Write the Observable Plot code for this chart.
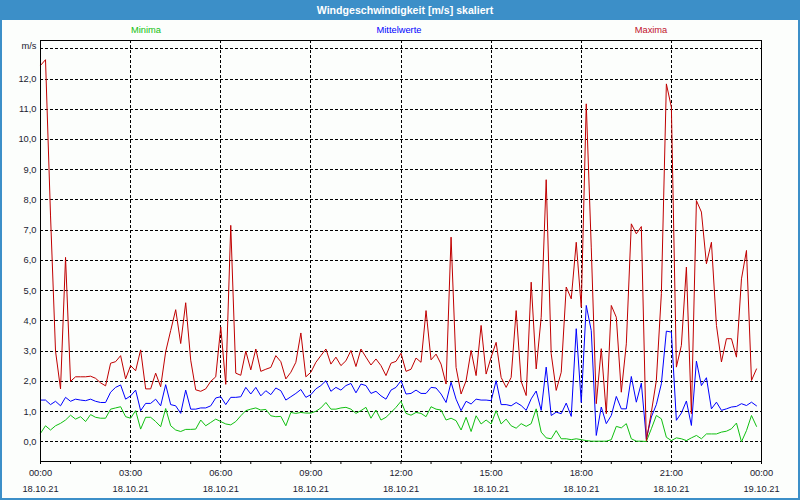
<!DOCTYPE html>
<html><head><meta charset="utf-8">
<script src="https://cdn.jsdelivr.net/npm/d3@7"></script>
<script src="https://cdn.jsdelivr.net/npm/@observablehq/plot@0.6"></script>
<style>
html,body{margin:0;padding:0;background:#fff;}
#win{position:relative;width:800px;height:500px;background:#fcfefc;overflow:hidden;font-family:"Liberation Sans",Arial,sans-serif;}
#title{position:absolute;left:0;top:0;width:800px;height:20px;background:#3c8fc8;}
#title span{position:absolute;left:405px;top:10px;transform:translate(-50%,-50%);color:#fff;font-weight:bold;font-size:10.6px;white-space:nowrap;}
.leg{position:absolute;top:30px;transform:translate(-50%,-50%);font-size:9.3px;white-space:nowrap;}
#chart{position:absolute;left:0;top:20px;}
#border{position:absolute;left:0;top:0;width:800px;height:500px;box-sizing:border-box;border:2px solid #3c8fc8;border-top:none;pointer-events:none;}
</style></head>
<body>
<div id="win">
  <div id="title"><span>Windgeschwindigkeit [m/s] skaliert</span></div>
  <div id="chart"></div>
  <div class="leg" style="left:146px;color:#10c010">Minima</div>
  <div class="leg" style="left:399px;color:#0000ff">Mittelwerte</div>
  <div class="leg" style="left:651px;color:#c0102a">Maxima</div>
  <div id="border"></div>
</div>
<script>
// 10-minute values, 18.10.21 00:00 .. 23:50
const maxima = [12.45,12.64,7.5,3.0,1.75,6.1,2.0,2.15,2.15,2.15,2.17,2.1,1.95,1.85,2.6,2.65,2.85,2.08,2.52,2.35,3.04,1.75,1.75,2.27,1.82,2.98,3.68,4.37,3.25,4.6,2.7,1.72,1.67,1.75,2.0,2.15,3.8,1.9,7.16,2.27,2.2,3.0,2.38,3.07,2.33,2.4,2.46,2.85,2.65,2.08,2.3,2.63,3.6,2.15,2.3,2.63,2.85,3.07,2.57,2.8,2.52,2.68,3.02,2.49,3.07,2.8,2.54,2.74,2.52,2.19,2.6,2.66,2.93,2.33,2.4,2.77,2.63,4.34,2.71,2.9,2.57,1.91,6.77,2.46,1.58,2.02,3.02,2.19,3.85,2.24,2.8,3.29,2.13,1.8,2.13,4.34,2.0,1.53,5.28,2.41,4.12,8.67,2.91,1.7,2.3,5.12,4.73,6.6,4.45,11.18,6.44,1.26,3.08,0.93,4.51,4.12,1.64,3.24,7.21,6.88,7.12,0.04,0.98,2.03,4.9,11.84,11.07,2.47,3.19,5.78,0.93,7.98,7.6,5.89,6.6,3.85,2.64,3.41,3.41,2.8,5.39,6.33,2.03,2.41];
const mittelwerte = [1.38,1.38,1.23,1.34,1.19,1.47,1.34,1.41,1.38,1.36,1.41,1.34,1.3,1.3,1.64,1.8,1.88,1.41,1.52,1.71,1.03,1.27,1.27,1.41,1.19,1.89,1.23,1.19,0.94,1.71,1.08,1.08,1.12,1.12,1.19,1.45,1.49,1.23,1.47,1.47,1.49,1.8,1.58,1.8,1.52,1.69,1.56,1.78,1.69,1.38,1.49,1.6,1.73,1.47,1.56,1.75,1.86,2.02,1.67,1.8,1.71,1.86,1.93,1.62,1.91,1.86,1.6,1.67,1.52,1.41,1.71,1.8,2.02,1.58,1.6,1.71,1.6,1.6,1.8,1.78,1.58,1.3,1.97,1.41,1.03,1.34,1.25,1.41,1.38,1.38,1.36,2.02,1.23,1.23,1.19,1.3,1.2,1.04,1.42,1.68,1.04,2.47,0.87,0.98,0.93,1.28,0.84,3.74,1.3,4.51,3.68,0.21,1.15,0.6,0.87,1.5,1.09,1.09,2.16,1.31,1.94,0.1,0.82,1.23,1.92,3.66,3.63,0.71,0.95,1.35,0.54,2.67,1.86,2.12,1.09,1.31,1.04,1.09,1.15,1.17,1.26,1.2,1.31,1.19];
const minima = [0.28,0.53,0.39,0.53,0.61,0.72,0.88,0.75,0.83,0.67,0.9,0.81,0.78,0.78,1.08,1.12,1.16,0.83,0.78,1.03,0.42,0.81,0.81,0.67,0.5,1.1,0.53,0.39,0.34,0.41,0.41,0.42,0.72,0.53,0.64,0.75,0.67,0.59,0.56,0.67,0.86,1.03,1.08,1.12,1.05,1.07,0.86,0.83,0.84,0.53,0.97,0.94,0.97,0.95,0.95,1.01,1.12,1.3,1.08,1.08,1.12,1.14,1.08,0.94,1.03,1.14,0.78,1.05,0.72,0.81,0.97,1.14,1.34,0.94,0.88,0.97,0.94,0.83,1.16,1.08,1.05,0.72,0.78,0.7,0.39,0.81,0.34,0.86,0.59,0.72,0.59,1.03,0.59,0.75,0.53,0.45,0.6,0.51,0.6,1.09,0.32,0.13,0.1,0.37,0.1,0.1,0.07,0.1,0.07,0.04,0.02,0.02,0.02,0.02,0.07,0.51,0.46,0.6,0.1,0.02,0.02,0.01,0.43,0.87,0.76,0.15,0.04,0.13,0.1,0.04,0.13,0.21,0.1,0.26,0.26,0.26,0.32,0.35,0.43,0.62,0.0,0.37,0.87,0.51];

const yTicks = [0,1,2,3,4,5,6,7,8,9,10,11,12];
const yGrid = [0,1,2,3,4,5,6,7,8,9,10,11,12,13];
const xTickHours = [0,3,6,9,12,15,18,21,24];
const xTickTimes = ["00:00","03:00","06:00","09:00","12:00","15:00","18:00","21:00","00:00"];
const xTickDates = ["18.10.21","18.10.21","18.10.21","18.10.21","18.10.21","18.10.21","18.10.21","18.10.21","19.10.21"];
const xGridHours = [3,6,9,12,15,18,21];
const xMinorHours = d3.range(0,25);

const rows = maxima.map((v,i)=>({h:i/6, max:v, mean:mittelwerte[i], min:minima[i]}));

const chart = Plot.plot({
  width: 800, height: 480,
  marginLeft: 40, marginRight: 39, marginTop: 20, marginBottom: 39,
  x: {domain:[0,24]},
  y: {domain:[-0.652,13.275]},
  style: {background:"transparent", fontFamily:'"Liberation Sans",Arial,sans-serif', fontSize:"9.3px", color:"#1a1a30"},
  marks: [
    Plot.ruleY(yGrid, {stroke:"#000", strokeWidth:1, strokeDasharray:"3,2", shapeRendering:"crispEdges"}),
    Plot.ruleX(xGridHours, {stroke:"#000", strokeWidth:1, strokeDasharray:"3,2", shapeRendering:"crispEdges"}),
    Plot.line(rows, {x:"h", y:"min", stroke:"#10c010", strokeWidth:1}),
    Plot.line(rows, {x:"h", y:"mean", stroke:"#0000ff", strokeWidth:1}),
    Plot.line(rows, {x:"h", y:"max", stroke:"#c00000", strokeWidth:1}),
    Plot.frame({stroke:"#000", strokeWidth:1, shapeRendering:"crispEdges"}),
    Plot.axisY(yTicks, {tickSize:0, tickPadding:4, label:null, tickFormat:d=>d.toFixed(1).replace(".",",")}),
    Plot.text(["m/s"], {x:0, y:13, dx:-4, dy:-3, textAnchor:"end", fill:"#1a1a30"}),
    Plot.axisX(xMinorHours, {tickSize:3, label:null, stroke:"#000", tickFormat:()=>""}),
    Plot.axisX(xTickHours, {tickSize:0, tickPadding:3, label:null, lineHeight:1.72,
      tickFormat:d=>xTickTimes[xTickHours.indexOf(d)]+"\n"+xTickDates[xTickHours.indexOf(d)]})
  ]
});
document.getElementById("chart").appendChild(chart);
</script>
</body></html>
